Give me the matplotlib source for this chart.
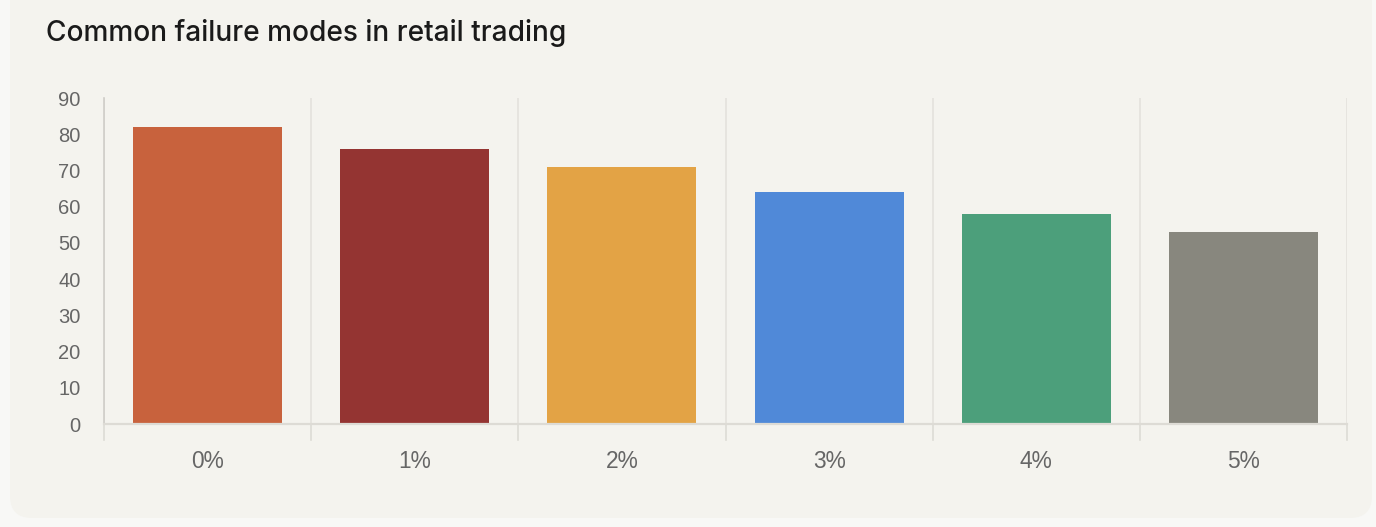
import matplotlib.pyplot as plt
from matplotlib.patches import FancyBboxPatch

# data
categories = ['0%', '1%', '2%', '3%', '4%', '5%']
values = [82, 76, 71, 64, 58, 53]
colors = ['#C8623D', '#943432', '#E3A345', '#5089D8', '#4C9F7B', '#88877E']
yticks = [0, 10, 20, 30, 40, 50, 60, 70, 80, 90]
title = 'Common failure modes in retail trading'

W, H = 1376, 527
fig = plt.figure(figsize=(W / 100, H / 100), dpi=100)
fig.patch.set_facecolor('#F8F8F6')

# background axes in pixel units, holds the rounded card
bg = fig.add_axes([0, 0, 1, 1], zorder=-1)
bg.set_xlim(0, W)
bg.set_ylim(H, 0)
bg.axis('off')
bg.add_patch(FancyBboxPatch((10, -40), 1362, 558,
                            boxstyle='round,pad=0,rounding_size=22',
                            facecolor='#F4F3EE', edgecolor='none'))

# axes in pixel coords: x 104..1347, y 98..424
ax = fig.add_axes([104 / W, (H - 424) / H, (1347 - 104) / W, (424 - 98) / H], zorder=1)
ax.set_facecolor('none')

x = list(range(len(categories)))
ax.bar(x, values, width=0.72, color=colors, zorder=3)

ax.set_xlim(-0.5, len(categories) - 0.5)
ax.set_ylim(0, 90)
ax.set_yticks(yticks)
ax.set_xticks(x)
ax.set_xticklabels(categories)

# vertical separators between categories
for b in [i - 0.5 for i in range(len(categories) + 1)]:
    ax.axvline(b, color='#E4E2DC', lw=1.2, zorder=1)
    ax.plot([b, b], [0, -0.049], transform=ax.get_xaxis_transform(),
            color='#DDDBD5', lw=1.2, clip_on=False)

for s in ['top', 'right']:
    ax.spines[s].set_visible(False)
ax.spines['left'].set_color('#CFCDC8')
ax.spines['left'].set_linewidth(1.2)
ax.spines['bottom'].set_color('#DDDBD5')
ax.spines['bottom'].set_linewidth(1.6)
ax.spines['bottom'].set_zorder(4)

ax.tick_params(axis='x', length=0, pad=19, labelsize=16.4, labelcolor='#666666')
ax.tick_params(axis='y', length=0, pad=17, labelsize=14.5, labelcolor='#666666')
for lbl in ax.get_xticklabels() + ax.get_yticklabels():
    lbl.set_fontfamily('Liberation Sans')

fig.text(46 / W, 1 - 33 / H, title, fontsize=20.2, color='#1A1A1A',
         fontfamily='Inter', fontweight='medium', va='center', ha='left')

fig.savefig('out.png', dpi=100, facecolor=fig.get_facecolor())
